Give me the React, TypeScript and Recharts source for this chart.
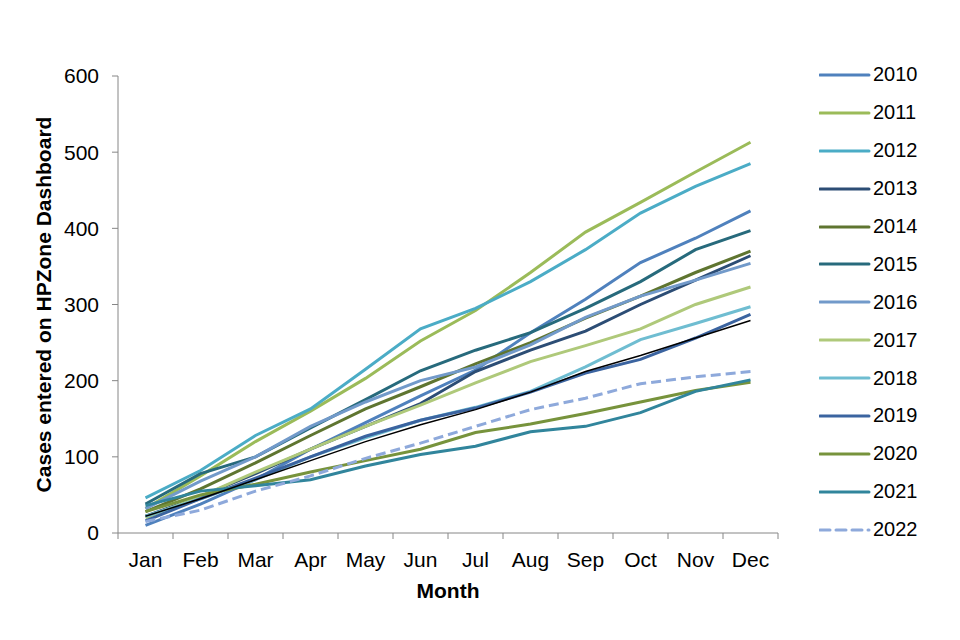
import React from "react";
import { LineChart, Line, XAxis, YAxis, Legend } from "recharts";

const months = ["Jan", "Feb", "Mar", "Apr", "May", "Jun", "Jul", "Aug", "Sep", "Oct", "Nov", "Dec"];
const yTicks = [0, 100, 200, 300, 400, 500, 600];

const y2010 = [10, 38, 70, 110, 145, 180, 214, 263, 307, 355, 387, 423];
const y2011 = [32, 75, 120, 160, 203, 252, 292, 342, 395, 434, 474, 513];
const y2012 = [46, 82, 128, 163, 215, 268, 295, 330, 372, 420, 455, 485];
const y2013 = [22, 48, 78, 110, 140, 170, 212, 240, 265, 300, 332, 364];
const y2014 = [28, 58, 92, 128, 163, 192, 222, 250, 282, 311, 342, 370];
const y2015 = [38, 78, 100, 138, 175, 213, 240, 263, 295, 330, 372, 397];
const y2016 = [32, 68, 100, 140, 172, 200, 218, 247, 283, 311, 332, 354];
const y2017 = [20, 48, 80, 110, 140, 168, 197, 225, 246, 268, 300, 323];
const y2018 = [22, 45, 70, 100, 125, 148, 165, 186, 218, 254, 275, 297];
const y2019 = [16, 45, 72, 100, 127, 148, 164, 185, 210, 228, 256, 287];
const y2020 = [28, 50, 64, 80, 95, 110, 132, 143, 157, 172, 187, 198];
const y2021 = [36, 55, 62, 70, 88, 103, 114, 133, 140, 158, 186, 201];
const y2022 = [15, 30, 55, 75, 98, 118, 140, 162, 177, 196, 205, 212];
// thin black line, not in the legend
const yExtra = [22, 45, 70, 95, 120, 142, 162, 185, 212, 233, 256, 279];

const series = [
  { key: "2010", values: y2010, color: "#4F81BD" },
  { key: "2011", values: y2011, color: "#9BBB59" },
  { key: "2012", values: y2012, color: "#4BACC6" },
  { key: "2013", values: y2013, color: "#2C4D75" },
  { key: "2014", values: y2014, color: "#5F7530" },
  { key: "2015", values: y2015, color: "#276A7C" },
  { key: "2016", values: y2016, color: "#729ACA" },
  { key: "2017", values: y2017, color: "#AFC97A" },
  { key: "2018", values: y2018, color: "#6FBDD1" },
  { key: "2019", values: y2019, color: "#3B64A0" },
  { key: "2020", values: y2020, color: "#77933C" },
  { key: "2021", values: y2021, color: "#31859C" },
  { key: "2022", values: y2022, color: "#8EA9DB", dashed: true },
];

const data = months.map((m, i) => {
  const row: Record<string, number | string> = { x: i + 1, month: m, extra: yExtra[i] };
  series.forEach((s) => (row[s.key] = s.values[i]));
  return row;
});

const FONT = "'Liberation Sans', Arial, sans-serif";
const BAND = 55;

function MonthTick(props: any) {
  const { x, y, payload, index } = props;
  const left = x - BAND / 2;
  return (
    <g>
      <line x1={left} y1={y} x2={left} y2={y + 6} stroke="#868686" strokeWidth={1} />
      {index === months.length - 1 && (
        <line x1={x + BAND / 2} y1={y} x2={x + BAND / 2} y2={y + 6} stroke="#868686" strokeWidth={1} />
      )}
      <text x={x} y={y + 34} textAnchor="middle" fontSize={21} fill="#000" fontFamily={FONT}>
        {months[payload.value - 1]}
      </text>
    </g>
  );
}

function YTitle(props: any) {
  const vb = props.viewBox;
  const cx = vb.x + 15;
  const cy = vb.y + vb.height / 2;
  return (
    <text
      x={cx}
      y={cy}
      transform={`rotate(-90, ${cx}, ${cy})`}
      textAnchor="middle"
      dominantBaseline="central"
      fontSize={21}
      fontWeight="bold"
      fontFamily={FONT}
      fill="#000"
    >
      Cases entered on HPZone Dashboard
    </text>
  );
}

function XTitle(props: any) {
  const vb = props.viewBox;
  return (
    <text
      x={vb.x + vb.width / 2}
      y={vb.y + 65}
      textAnchor="middle"
      fontSize={21}
      fontWeight="bold"
      fontFamily={FONT}
      fill="#000"
    >
      Month
    </text>
  );
}

function LegendBox() {
  return (
    <div style={{ fontFamily: FONT, fontSize: 20, color: "#000" }}>
      {series.map((s) => (
        <div key={s.key} style={{ height: 37.9, display: "flex", alignItems: "center" }}>
          <svg width={54} height={10} style={{ display: "block" }}>
            <line
              x1={1}
              y1={5}
              x2={50}
              y2={5}
              stroke={s.color}
              strokeWidth={3}
              strokeLinecap="round"
              strokeDasharray={s.dashed ? "10 6" : undefined}
            />
          </svg>
          <span>{s.key}</span>
        </div>
      ))}
    </div>
  );
}

export default function App() {
  return (
    <div style={{ position: "absolute", left: 0, top: 0, width: 960, height: 640, background: "#fff", fontFamily: FONT }}>
      <LineChart width={960} height={640} data={data} margin={{ top: 76, right: 182, bottom: 37, left: 28 }}>
        <XAxis
          dataKey="x"
          type="number"
          domain={[0.5, 12.5]}
          ticks={[1, 2, 3, 4, 5, 6, 7, 8, 9, 10, 11, 12]}
          interval={0}
          height={70}
          tickLine={false}
          tickSize={0}
          tickMargin={0}
          axisLine={{ stroke: "#868686" }}
          tick={<MonthTick />}
          label={<XTitle />}
        />
        <YAxis
          type="number"
          domain={[0, 600]}
          ticks={yTicks}
          width={90}
          tickSize={6}
          tickMargin={13}
          tickLine={{ stroke: "#868686" }}
          axisLine={{ stroke: "#868686" }}
          tick={{ fontSize: 21, fill: "#000", fontFamily: FONT }}
          label={<YTitle />}
        />
        <Legend
          layout="vertical"
          align="center"
          verticalAlign="middle"
          wrapperStyle={{ left: 819, top: 56, width: 140 }}
          content={<LegendBox />}
        />
        {series.map((s) => (
          <Line
            key={s.key}
            dataKey={s.key}
            stroke={s.color}
            strokeWidth={3}
            strokeDasharray={s.dashed ? "10 5" : undefined}
            dot={false}
            activeDot={false}
            isAnimationActive={false}
          />
        ))}
        <Line
          dataKey="extra"
          stroke="#000"
          strokeWidth={1.5}
          dot={false}
          activeDot={false}
          legendType="none"
          isAnimationActive={false}
        />
      </LineChart>
    </div>
  );
}
